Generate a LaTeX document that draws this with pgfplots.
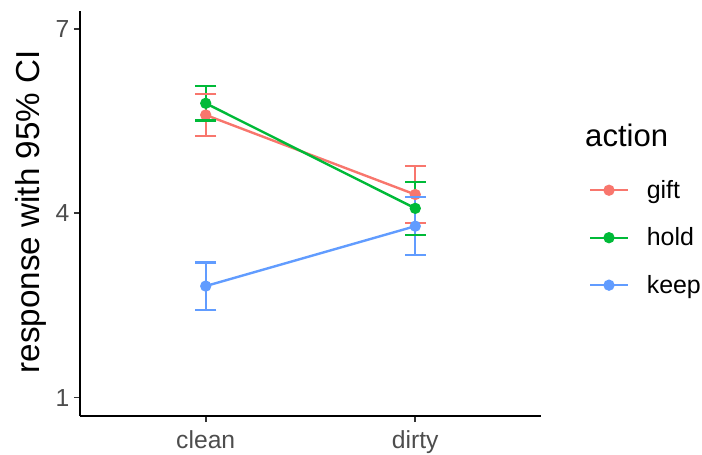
\documentclass[border=0pt]{standalone}
\usepackage{pgfplots}
\pgfplotsset{compat=1.18}
\usepackage{fontspec}
\setmainfont{Liberation Sans}
\definecolor{cgift}{HTML}{F8766D}
\definecolor{chold}{HTML}{00BA38}
\definecolor{ckeep}{HTML}{619CFF}
\definecolor{tickgray}{HTML}{4D4D4D}
\definecolor{tickmark}{HTML}{333333}
\pgfplotsset{
  serie/.style={#1, line width=1.8pt, mark=*, mark size=3.3pt,
    mark options={solid, fill=#1, draw=#1},
    error bars/.cd, y dir=both, y explicit,
    error bar style={line width=1.8pt, #1},
    error mark=none},
  caps/.style={#1, forget plot, only marks, mark=-, mark size=7.9pt, line width=1.8pt,
    mark options={solid, draw=#1, line width=1.8pt}},
}
\begin{document}
\begin{tikzpicture}
\useasboundingbox (-60pt,-28.5pt) rectangle (466.5pt,312pt);
\begin{axis}[
  at={(0pt,0pt)}, anchor=south west,
  scale only axis, width=345.75pt, height=304.1pt,
  xmin=0.4, xmax=2.6, ymin=0.7, ymax=7.3,
  axis x line*=bottom, axis y line*=left,
  axis line style={line width=1.4pt, black, -},
  xtick={1,2}, xticklabels={clean,dirty},
  ytick={1,4,7},
  tick align=outside,
  major tick length=4.5pt,
  tick style={line width=1.2pt, tickmark},
  ticklabel style={font=\fontsize{18.5}{22}\selectfont, text=tickgray},
  xticklabel style={yshift=-3pt},
  /pgf/number format/assume math mode=true,
  ylabel={response with 95\% CI},
  ylabel style={font=\fontsize{24.9}{28}\selectfont, at={(axis description cs:-0.106,0.504)}, anchor=center},
  legend style={at={(axis description cs:1.104,0.616)}, anchor=north west,
    draw=none, fill=none, inner sep=0pt, column sep=13.5pt,
    font=\fontsize{18.7}{22}\selectfont,
    nodes={inner sep=0pt, minimum height=35.6pt}},
  legend cell align=left,
  legend image code/.code={\draw[mark repeat=2, mark phase=2, #1] plot coordinates {(0cm,0cm) (0.49cm,0cm) (0.98cm,0cm)};},
  clip=false,
]
% gift
\addplot[serie=cgift] table[x=x, y=y, y error=e] {
x y e
1 5.60 0.34
2 4.305 0.465
};
\addlegendentry{gift}
\addplot[caps=cgift] table {
x y
1 5.94
1 5.26
2 4.77
2 3.84
};
% hold
\addplot[serie=chold] table[x=x, y=y, y error=e] {
x y e
1 5.79 0.28
2 4.08 0.43
};
\addlegendentry{hold}
\addplot[caps=chold] table {
x y
1 6.07
1 5.51
2 4.51
2 3.65
};
% keep
\addplot[serie=ckeep] table[x=x, y=y, y error=e] {
x y e
1 2.815 0.385
2 3.79 0.47
};
\addlegendentry{keep}
\addplot[caps=ckeep] table {
x y
1 3.20
1 2.43
2 4.26
2 3.32
};
\node[anchor=base west, inner sep=0pt, font=\fontsize{23.3}{28}\selectfont] at (axis description cs:1.0954,0.664) {action};
\end{axis}
\end{tikzpicture}
\end{document}
